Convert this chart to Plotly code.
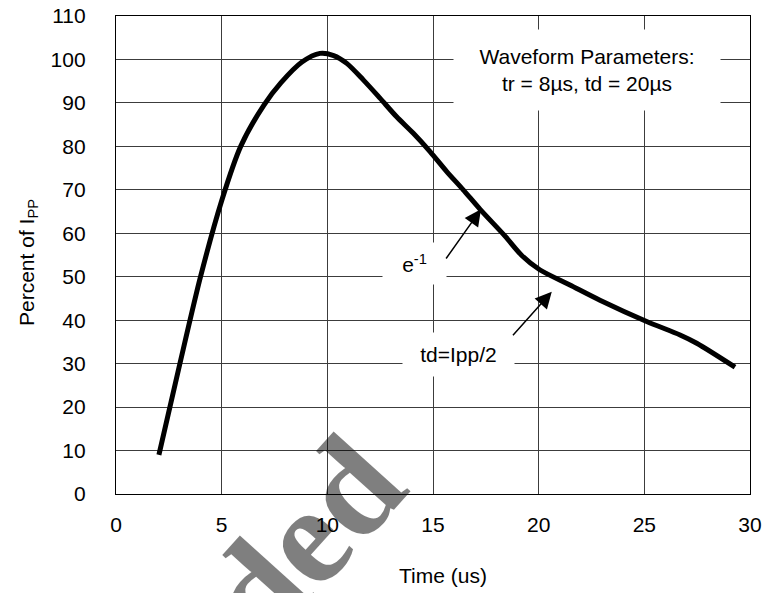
import plotly.graph_objects as go

time_us = [2.03, 3.0, 4.0, 5.0, 5.9, 7.0, 7.8, 8.8, 9.65, 10.3, 10.92, 11.7,
           12.49, 13.28, 14.07, 14.86, 15.65, 16.43, 17.23, 18.4, 19.2, 20.05,
           21.48, 22.9, 25.11, 26.69, 27.48, 29.29]
pct_ipp = [9, 29.5, 50, 67.5, 80, 89.5, 94.6, 99.4, 101.4, 100.9, 99.1, 95.3,
           91.1, 86.8, 83.0, 78.8, 74.2, 70.0, 65.5, 59.4, 54.9, 51.6,
           48.1, 44.6, 39.7, 36.6, 34.7, 29.2]

x_ticks = [0, 5, 10, 15, 20, 25, 30]
y_ticks = list(range(0, 111, 10))

box_text = "Waveform Parameters:<br>tr = 8µs, td = 20µs"
e_label = "e<sup>-1</sup>"
td_label = "td=Ipp/2"
e_arrow = dict(head=(17.27, 65.5), tail=(15.57, 53.85))
td_arrow = dict(head=(20.62, 46.55), tail=(18.72, 36.2))

FONT = "Liberation Sans, Arial, sans-serif"
GRID = "#3c3c3c"
FS = 21

fig = go.Figure()

# watermark fragment (semi-transparent)
fig.add_annotation(text="<b>ded</b>", xref="paper", yref="paper",
                   x=(303 - 116) / 634, y=(494 - 539) / 478, showarrow=False, textangle=-48,
                   font=dict(family="Liberation Serif, Times New Roman, serif", size=140,
                             color="rgba(0,0,0,0.5)"),
                   xanchor="center", yanchor="middle")

fig.add_trace(go.Scatter(
    x=time_us, y=pct_ipp, mode="lines",
    line=dict(color="black", width=5, shape="spline", smoothing=0.8),
    hoverinfo="skip", showlegend=False))

# page body has an 8px margin, so the figure is 8px smaller and margins 8px less
fig.update_layout(
    width=766, height=585,
    margin=dict(l=108, r=24, t=8, b=99),
    paper_bgcolor="white", plot_bgcolor="white",
    font=dict(family=FONT, size=FS, color="black"),
    showlegend=False,
)
fig.update_xaxes(range=[0, 30], tickvals=x_ticks, showgrid=True, gridcolor=GRID, gridwidth=1,
                 showline=True, linecolor="black", linewidth=1.3, mirror=True,
                 ticks="", ticklen=0, zeroline=False, tickfont=dict(size=FS), ticklabelstandoff=12,
                 automargin=False, ticklabeloverflow="allow")
fig.update_yaxes(range=[0, 110], tickvals=y_ticks, showgrid=True, gridcolor=GRID, gridwidth=1,
                 showline=True, linecolor="black", linewidth=1.3, mirror=True,
                 ticks="", ticklen=0, zeroline=False, tickfont=dict(size=FS), ticklabelstandoff=25,
                 automargin=False, ticklabeloverflow="allow")

# axis titles
fig.add_annotation(text="Time (us)", xref="paper", yref="paper", x=(443 - 116) / 634, y=-(575 - 494) / 478,
                   showarrow=False, font=dict(size=FS), xanchor="center", yanchor="middle")
fig.add_annotation(text="Percent of I<sub>PP</sub>", xref="paper", yref="paper", x=-(116 - 28) / 634,
                   y=(494 - 263) / 478, textangle=-90, showarrow=False, font=dict(size=FS),
                   xanchor="center", yanchor="middle")

# parameter box
fig.add_annotation(text=box_text, x=22.3, y=97.6, xref="x", yref="y", showarrow=False,
                   bgcolor="white", width=262, height=76, borderpad=2, font=dict(size=FS))
# labels
fig.add_annotation(text=e_label, x=14.12, y=53.0, xref="x", yref="y", showarrow=False,
                   bgcolor="white", width=59, height=37, borderpad=2, font=dict(size=FS))
fig.add_annotation(text=td_label, x=16.2, y=32.0, xref="x", yref="y", showarrow=False,
                   bgcolor="white", width=107, height=39, borderpad=2, font=dict(size=FS))
# arrows
for a in (e_arrow, td_arrow):
    fig.add_annotation(x=a["head"][0], y=a["head"][1], ax=a["tail"][0], ay=a["tail"][1],
                       xref="x", yref="y", axref="x", ayref="y", text="", showarrow=True,
                       arrowhead=2, arrowsize=2.2, arrowwidth=1.5, arrowcolor="black")

fig.write_html("out.html")
